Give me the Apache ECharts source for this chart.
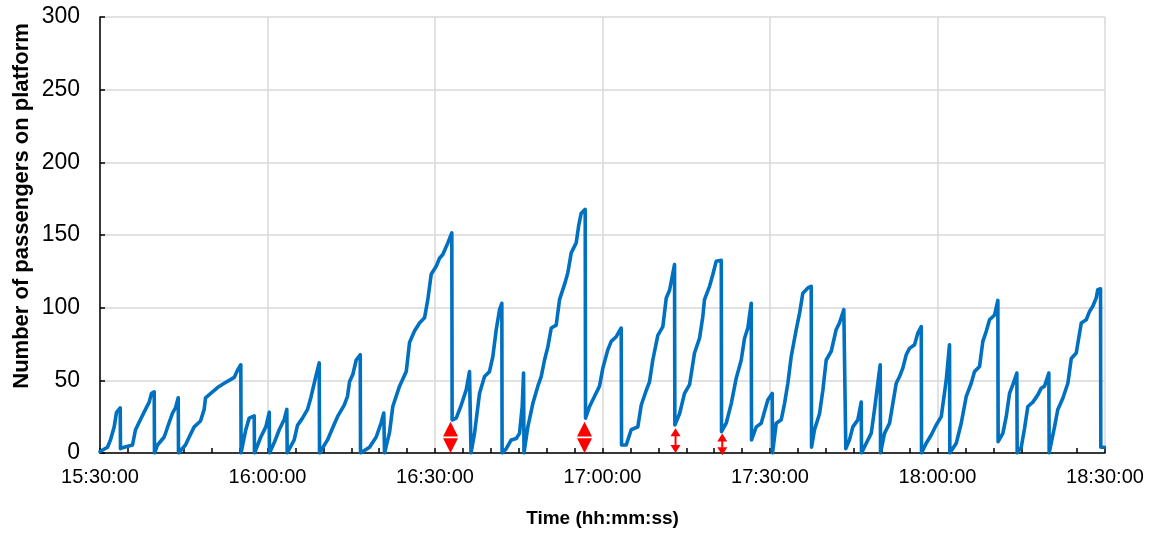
<!DOCTYPE html>
<html>
<head>
<meta charset="utf-8">
<script src="https://cdn.jsdelivr.net/npm/echarts@6/dist/echarts.min.js"></script>
<style>html,body{margin:0;padding:0;background:#fff}#c{width:1150px;height:533px}</style>
</head>
<body>
<div id="c"></div>
<script>
// minutes after 15:30:00
var minutes = [0,1.34,1.88,2.54,2.96,3.62,3.67,4.33,5.82,6.36,7.25,8.15,8.81,9.22,9.71,9.76,10.3,11.5,12.39,12.99,13.52,14.01,14.06,15.31,15.98,16.87,18.0,18.66,18.9,20.15,21.05,22.25,23.14,24.04,24.63,25.22,25.27,26.11,26.72,27.01,27.62,27.67,28.8,29.7,30.31,30.36,31.2,32.1,32.99,33.46,33.53,34.78,35.37,36.27,37.17,37.76,38.65,39.26,39.32,40.75,41.64,42.54,43.74,44.33,44.69,45.28,45.89,46.61,46.66,48.27,49.47,50.37,50.83,50.96,51.85,52.44,53.65,54.85,55.44,56.33,57.23,58.13,58.71,59.32,60.22,60.81,61.4,62.3,63.01,63.07,63.8,64.7,65.59,66.18,66.45,67.08,67.97,68.87,69.76,70.36,70.97,71.56,71.97,72.02,72.76,73.65,74.55,75.14,75.62,75.86,75.94,76.63,77.52,78.42,79.02,79.62,80.21,80.82,81.71,82.3,83.2,83.79,84.4,85.29,85.76,86.19,86.9,86.96,87.68,88.58,89.47,90.06,90.95,91.56,92.46,93.35,93.41,94.25,95.14,96.33,96.94,97.83,98.42,99.01,99.91,100.81,101.42,102.01,102.9,102.96,103.8,104.69,105.59,106.48,107.38,107.97,108.27,109.17,109.76,110.37,111.27,111.32,112.16,113.06,113.95,114.85,115.44,116.03,116.64,116.69,117.54,118.43,119.02,119.61,120.4,120.45,121.12,122.01,122.6,123.2,123.8,124.7,125.29,125.88,126.78,127.38,127.44,127.97,128.87,129.46,130.07,130.97,131.86,132.45,133.22,133.53,133.58,134.24,134.84,135.73,136.34,136.39,137.24,138.13,138.72,139.31,139.74,139.8,140.51,141.41,142.0,142.61,143.2,143.79,144.4,144.99,145.89,146.48,147.09,147.14,147.98,148.88,149.77,150.67,151.56,152.15,152.21,153.36,154.25,155.15,156.04,156.63,157.53,158.12,158.73,159.32,160.22,160.81,160.86,161.7,162.31,162.9,163.5,164.21,164.27,165.0,165.59,166.18,167.08,167.97,168.58,169.17,169.94,170.0,170.96,171.55,172.45,173.35,173.96,174.85,175.75,176.64,177.23,177.82,178.43,178.71,179.2,179.25,179.91];
var passengers = [1,4,9,18,28,31,3,4,5.5,16,23,30,35,41,42,0,5.5,11,21,27.5,31,38,0,5.5,11,18,22,30,38,42,45,48,50,52,57,60.7,0,16,24,25,25.5,0,11,18,28,0,7,16,23,30,0,9,19,24,30,38,52.6,62,0,9,17,25,33,39,49,54,64,67.6,0,4,11,21,27.5,0,14,32,46,56,76,84,89.5,93,105.5,123,128.5,134,136.6,144.6,151.5,22.7,24,33,43.4,56,0,13.5,41,52.6,56,66.4,85,98.6,103,0,3,9,10,13.5,32,55,0,18,34,46,52.6,64,73,86,88,105.5,116,124,137.7,144.6,157,165,167.6,24,32,39,46,58.4,71,76.8,80,86,5.5,5.5,16,18,33,43,49,64,81,87,106.7,112,129.7,19.3,27,41,47,68.8,79,94,105.5,114.7,122.8,132,132.6,14.7,20.5,34,51.5,64,79,86,103,9,18,20.5,28.5,36.5,41,0,20.5,22.8,34,48,66.4,85,96,110,113.6,114.7,4,16,27,43,64,70,85,89.5,98.6,99.8,3,9,18,22.8,35,0,6.7,13.5,30,48,60.7,0,13.5,20.5,34,48,52.6,58.4,67.6,72,74.5,82.5,87,0,6.7,12.4,19.3,25,50,74.5,0,6.7,20.5,39,48,56,59.5,76.8,83.7,91.7,95,105,7.8,13.5,25,41,47,55,0,4,17,32,35,40,44.6,46,55,0,18,30,37.7,48,65,68.8,89.5,91.7,97.4,101,106.7,112.4,113,4,4];
// red double arrows: time (minutes after 15:30), lower and upper value
var arrowMinutes = [62.78, 86.78, 103.08, 111.45];
var arrowLow = [0, 0, 0, -1.5];
var arrowHigh = [21.5, 21.5, 17, 13.5];
var xTickLabels = ['15:30:00','16:00:00','16:30:00','17:00:00','17:30:00','18:00:00','18:30:00'];

var lineData = minutes.map(function (m, i) { return [m, passengers[i]]; });
var arrowData = arrowMinutes.map(function (m, i) { return [m, arrowLow[i], arrowHigh[i]]; });
var FONT = '"Liberation Sans", Arial, sans-serif';

var chart = echarts.init(document.getElementById('c'), null, {renderer: 'canvas'});
chart.setOption({
  animation: false,
  backgroundColor: '#fff',
  grid: {left: 100, right: 45, top: 17, bottom: 80, containLabel: false},
  xAxis: {
    type: 'value', min: 0, max: 180, interval: 30,
    name: 'Time (hh:mm:ss)', nameLocation: 'middle', nameGap: 56,
    nameTextStyle: {fontFamily: FONT, fontSize: 19, fontWeight: 'bold', color: '#000'},
    axisLine: {lineStyle: {color: '#000', width: 1.5}},
    axisTick: {show: true, inside: true, length: 5, lineStyle: {color: '#000', width: 1.5}},
    minorTick: {show: true, splitNumber: 6, length: 5, lineStyle: {color: '#000', width: 1.5}},
    axisLabel: {fontFamily: FONT, fontSize: 20, color: '#000', margin: 14,
      formatter: function (v) { return xTickLabels[Math.round(v / 30)]; }},
    splitLine: {show: true, lineStyle: {color: '#d9d9d9', width: 1.5}}
  },
  yAxis: {
    type: 'value', min: 0, max: 300, interval: 50,
    axisLine: {show: true, lineStyle: {color: '#000', width: 1.5}},
    axisTick: {show: true, inside: true, length: 5, lineStyle: {color: '#000', width: 1.5}},
    axisLabel: {fontFamily: FONT, fontSize: 23, color: '#000', margin: 20},
    splitLine: {show: true, lineStyle: {color: '#d9d9d9', width: 1.5}}
  },
  graphic: [{
    type: 'text', x: 22, y: 206, rotation: Math.PI / 2,
    style: {text: 'Number of passengers on platform', fontFamily: FONT, fontSize: 22, fontWeight: 'bold',
      fill: '#000', textAlign: 'center', textVerticalAlign: 'middle'}
  }],
  series: [{
    type: 'line', data: lineData, showSymbol: false, symbol: 'none',
    lineStyle: {color: '#0070C0', width: 3.6, cap: 'round', join: 'round'}, z: 3
  }, {
    type: 'custom', data: arrowData, clip: false, z: 5,
    renderItem: function (params, api) {
      var x = api.value(0);
      var top = api.coord([x, api.value(2)]);
      var bot = api.coord([x, api.value(1)]);
      var cx = top[0];
      var fill = {fill: '#FF0000'};
      if (params.dataIndex < 2) {
        var mid = (top[1] + bot[1]) / 2, hw = 7.5, g = 0.8;
        return {type: 'group', children: [
          {type: 'polygon', shape: {points: [[cx, top[1]], [cx + hw, mid - g], [cx - hw, mid - g]]}, style: fill},
          {type: 'polygon', shape: {points: [[cx, bot[1]], [cx + hw, mid + g], [cx - hw, mid + g]]}, style: fill}
        ]};
      }
      var hw2 = 5, hh = 8;
      return {type: 'group', children: [
        {type: 'polygon', shape: {points: [[cx, top[1]], [cx + hw2, top[1] + hh], [cx - hw2, top[1] + hh]]}, style: fill},
        {type: 'polygon', shape: {points: [[cx, bot[1]], [cx + hw2, bot[1] - hh], [cx - hw2, bot[1] - hh]]}, style: fill},
        {type: 'rect', shape: {x: cx - 1, y: top[1] + hh - 0.5, width: 2, height: bot[1] - top[1] - 2 * hh + 1}, style: fill}
      ]};
    }
  }]
});
</script>
</body>
</html>
